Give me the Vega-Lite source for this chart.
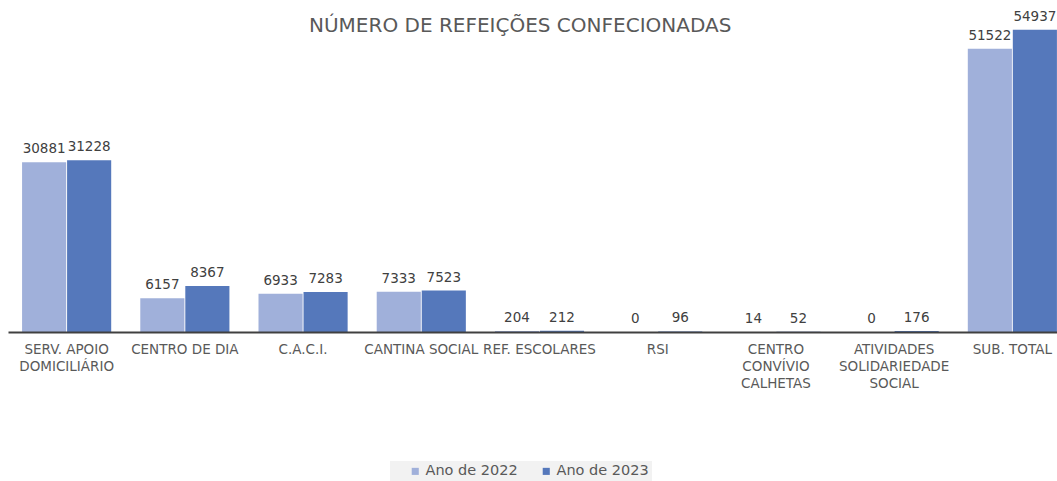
{
  "$schema": "https://vega.github.io/schema/vega-lite/v6.json",
  "width": 1063,
  "height": 330,
  "autosize": {"type": "none"},
  "padding": {"left": 8, "top": 2, "right": 0, "bottom": 149},
  "background": "white",
  "config": {
    "font": "DejaVu Sans",
    "view": {"stroke": null}
  },
  "title": {
    "text": "NÚMERO DE REFEIÇÕES CONFECIONADAS",
    "fontSize": 20,
    "fontWeight": "normal",
    "color": "#595959",
    "anchor": "start",
    "dx": 301,
    "offset": -34,
    "font": "DejaVu Sans"
  },
  "data": {
    "values": [
      {"categoria": "SERV. APOIO DOMICILIÁRIO", "ano": "Ano de 2022", "valor": 30881},
      {"categoria": "SERV. APOIO DOMICILIÁRIO", "ano": "Ano de 2023", "valor": 31228},
      {"categoria": "CENTRO DE DIA", "ano": "Ano de 2022", "valor": 6157},
      {"categoria": "CENTRO DE DIA", "ano": "Ano de 2023", "valor": 8367},
      {"categoria": "C.A.C.I.", "ano": "Ano de 2022", "valor": 6933},
      {"categoria": "C.A.C.I.", "ano": "Ano de 2023", "valor": 7283},
      {"categoria": "CANTINA SOCIAL", "ano": "Ano de 2022", "valor": 7333},
      {"categoria": "CANTINA SOCIAL", "ano": "Ano de 2023", "valor": 7523},
      {"categoria": "REF. ESCOLARES", "ano": "Ano de 2022", "valor": 204},
      {"categoria": "REF. ESCOLARES", "ano": "Ano de 2023", "valor": 212},
      {"categoria": "RSI", "ano": "Ano de 2022", "valor": 0},
      {"categoria": "RSI", "ano": "Ano de 2023", "valor": 96},
      {"categoria": "CENTRO CONVÍVIO CALHETAS", "ano": "Ano de 2022", "valor": 14},
      {"categoria": "CENTRO CONVÍVIO CALHETAS", "ano": "Ano de 2023", "valor": 52},
      {"categoria": "ATIVIDADES SOLIDARIEDADE SOCIAL", "ano": "Ano de 2022", "valor": 0},
      {"categoria": "ATIVIDADES SOLIDARIEDADE SOCIAL", "ano": "Ano de 2023", "valor": 176},
      {"categoria": "SUB. TOTAL", "ano": "Ano de 2022", "valor": 51522},
      {"categoria": "SUB. TOTAL", "ano": "Ano de 2023", "valor": 54937}
    ]
  },
  "encoding": {
    "x": {
      "field": "categoria",
      "type": "nominal",
      "sort": null,
      "scale": {"paddingInner": 0.246, "paddingOuter": 0.119},
      "axis": {
        "title": null,
        "labelAngle": 0,
        "labelFontSize": 13.5,
        "labelColor": "#595959",
        "labelPadding": 10,
        "labelLimit": 200,
        "ticks": false,
        "domainColor": "#404040",
        "domainWidth": 2,
        "zindex": 1,
        "labelLineHeight": 17,
        "labelExpr": "datum.value == 'SERV. APOIO DOMICILIÁRIO' ? ['SERV. APOIO', 'DOMICILIÁRIO'] : datum.value == 'CENTRO CONVÍVIO CALHETAS' ? ['CENTRO', 'CONVÍVIO', 'CALHETAS'] : datum.value == 'ATIVIDADES SOLIDARIEDADE SOCIAL' ? ['ATIVIDADES', 'SOLIDARIEDADE', 'SOCIAL'] : datum.value"
      }
    },
    "xOffset": {"field": "ano", "type": "nominal", "scale": {"paddingInner": 0.02}},
    "y": {
      "field": "valor",
      "type": "quantitative",
      "scale": {"domain": [0, 60000], "nice": false},
      "axis": null
    }
  },
  "layer": [
    {
      "mark": {"type": "bar"},
      "encoding": {
        "color": {
          "field": "ano",
          "type": "nominal",
          "scale": {"domain": ["Ano de 2022", "Ano de 2023"], "range": ["#a0b0da", "#5578bb"]},
          "legend": {
            "title": null,
            "orient": "none",
            "direction": "horizontal",
            "legendX": 382,
            "legendY": 459,
            "fillColor": "#f2f2f2",
            "padding": 3,
            "symbolType": "square",
            "symbolSize": 50,
            "symbolStrokeWidth": 0,
            "symbolOffset": 15,
            "labelFontSize": 14.5,
            "labelColor": "#595959",
            "labelOffset": 3,
            "columnPadding": 6
          }
        }
      }
    },
    {
      "mark": {"type": "text", "baseline": "bottom", "dy": -6, "fontSize": 13.5, "color": "#404040"},
      "encoding": {
        "text": {"field": "valor", "type": "quantitative", "format": "d"}
      }
    }
  ]
}
